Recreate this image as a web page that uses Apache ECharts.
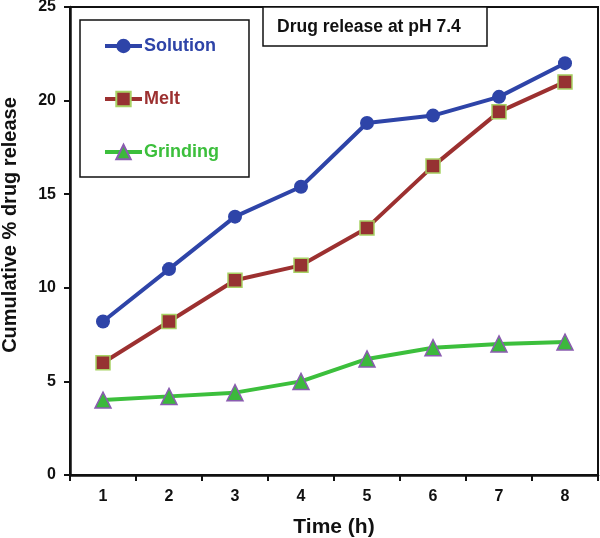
<!DOCTYPE html>
<html>
<head>
<meta charset="utf-8">
<script src="https://cdn.jsdelivr.net/npm/echarts@6/dist/echarts.min.js"></script>
<style>
  html, body { margin: 0; padding: 0; background: #fff; }
  #chart { width: 600px; height: 538px; }
</style>
</head>
<body>
<div id="chart"></div>
<script>
const hours = ['1', '2', '3', '4', '5', '6', '7', '8'];
const solution = [8.2, 11.0, 13.8, 15.4, 18.8, 19.2, 20.2, 22.0];
const melt = [6.0, 8.2, 10.4, 11.2, 13.2, 16.5, 19.4, 21.0];
const grinding = [4.0, 4.2, 4.4, 5.0, 6.2, 6.8, 7.0, 7.1];

const font = 'Liberation Sans, Arial, sans-serif';
let chart = echarts.init(document.getElementById('chart'));

chart.setOption({
  animation: false,
  title: {
    text: 'Drug release at pH 7.4',
    left: 263,
    top: 7,
    padding: [11, 26, 10, 14],
    borderColor: '#111',
    borderWidth: 1.5,
    backgroundColor: '#fff',
    textStyle: { fontFamily: font, fontWeight: 'bold', fontSize: 17.5, color: '#111' }
  },
  legend: {
    orient: 'vertical',
    left: 80,
    top: 20,
    padding: [17, 30, 16, 23],
    itemGap: 35,
    itemWidth: 37,
    itemHeight: 18,
    borderColor: '#111',
    borderWidth: 1.5,
    backgroundColor: '#fff',
    lineStyle: { width: 4 },
    textStyle: { fontFamily: font, fontWeight: 'bold', fontSize: 18, padding: [0, 0, 0, -3] },
    data: [
      { name: 'Solution', textStyle: { color: '#2e44a8' } },
      { name: 'Melt', textStyle: { color: '#9c3030' } },
      { name: 'Grinding', textStyle: { color: '#3cbf3c' } }
    ]
  },
  grid: {
    left: 70,
    right: 2,
    top: 7,
    bottom: 63,
    outerBoundsMode: 'none',
    containLabel: false,
    show: true,
    borderColor: '#111',
    borderWidth: 2
  },
  xAxis: {
    type: 'category',
    data: hours,
    boundaryGap: true,
    name: 'Time (h)',
    nameLocation: 'middle',
    nameGap: 42,
    nameTextStyle: { fontFamily: font, fontWeight: 'bold', fontSize: 21, color: '#111' },
    axisLine: { lineStyle: { color: '#111', width: 2.5 } },
    axisTick: { show: true, length: 6, lineStyle: { color: '#111', width: 2 } },
    axisLabel: { fontFamily: font, fontWeight: 'bold', fontSize: 16, color: '#111', margin: 14 }
  },
  yAxis: {
    type: 'value',
    min: 0,
    max: 25,
    interval: 5,
    name: 'Cumulative % drug release',
    nameLocation: 'middle',
    nameGap: 50,
    nameTextStyle: { fontFamily: font, fontWeight: 'bold', fontSize: 20, color: '#111', padding: [0, 0, 0, 32] },
    axisLine: { show: true, lineStyle: { color: '#111', width: 2.5 } },
    axisTick: { show: true, length: 6, lineStyle: { color: '#111', width: 2 } },
    splitLine: { show: false },
    axisLabel: { fontFamily: font, fontWeight: 'bold', fontSize: 16, color: '#111', margin: 14 }
  },
  series: [
    {
      name: 'Solution',
      type: 'line',
      data: solution,
      symbol: 'circle',
      symbolSize: 14,
      lineStyle: { color: '#2e44a8', width: 4 },
      itemStyle: { color: '#2e44a8' }
    },
    {
      name: 'Melt',
      type: 'line',
      data: melt,
      symbol: 'rect',
      symbolSize: 14,
      lineStyle: { color: '#9c3030', width: 4 },
      itemStyle: { color: '#963232', borderColor: '#a8d264', borderWidth: 1.5 }
    },
    {
      name: 'Grinding',
      type: 'line',
      data: grinding,
      symbol: 'triangle',
      symbolSize: 16,
      lineStyle: { color: '#3cbf3c', width: 4 },
      itemStyle: { color: '#3cb83c', borderColor: '#8a5cb0', borderWidth: 1.5 }
    }
  ]
});
</script>
</body>
</html>
